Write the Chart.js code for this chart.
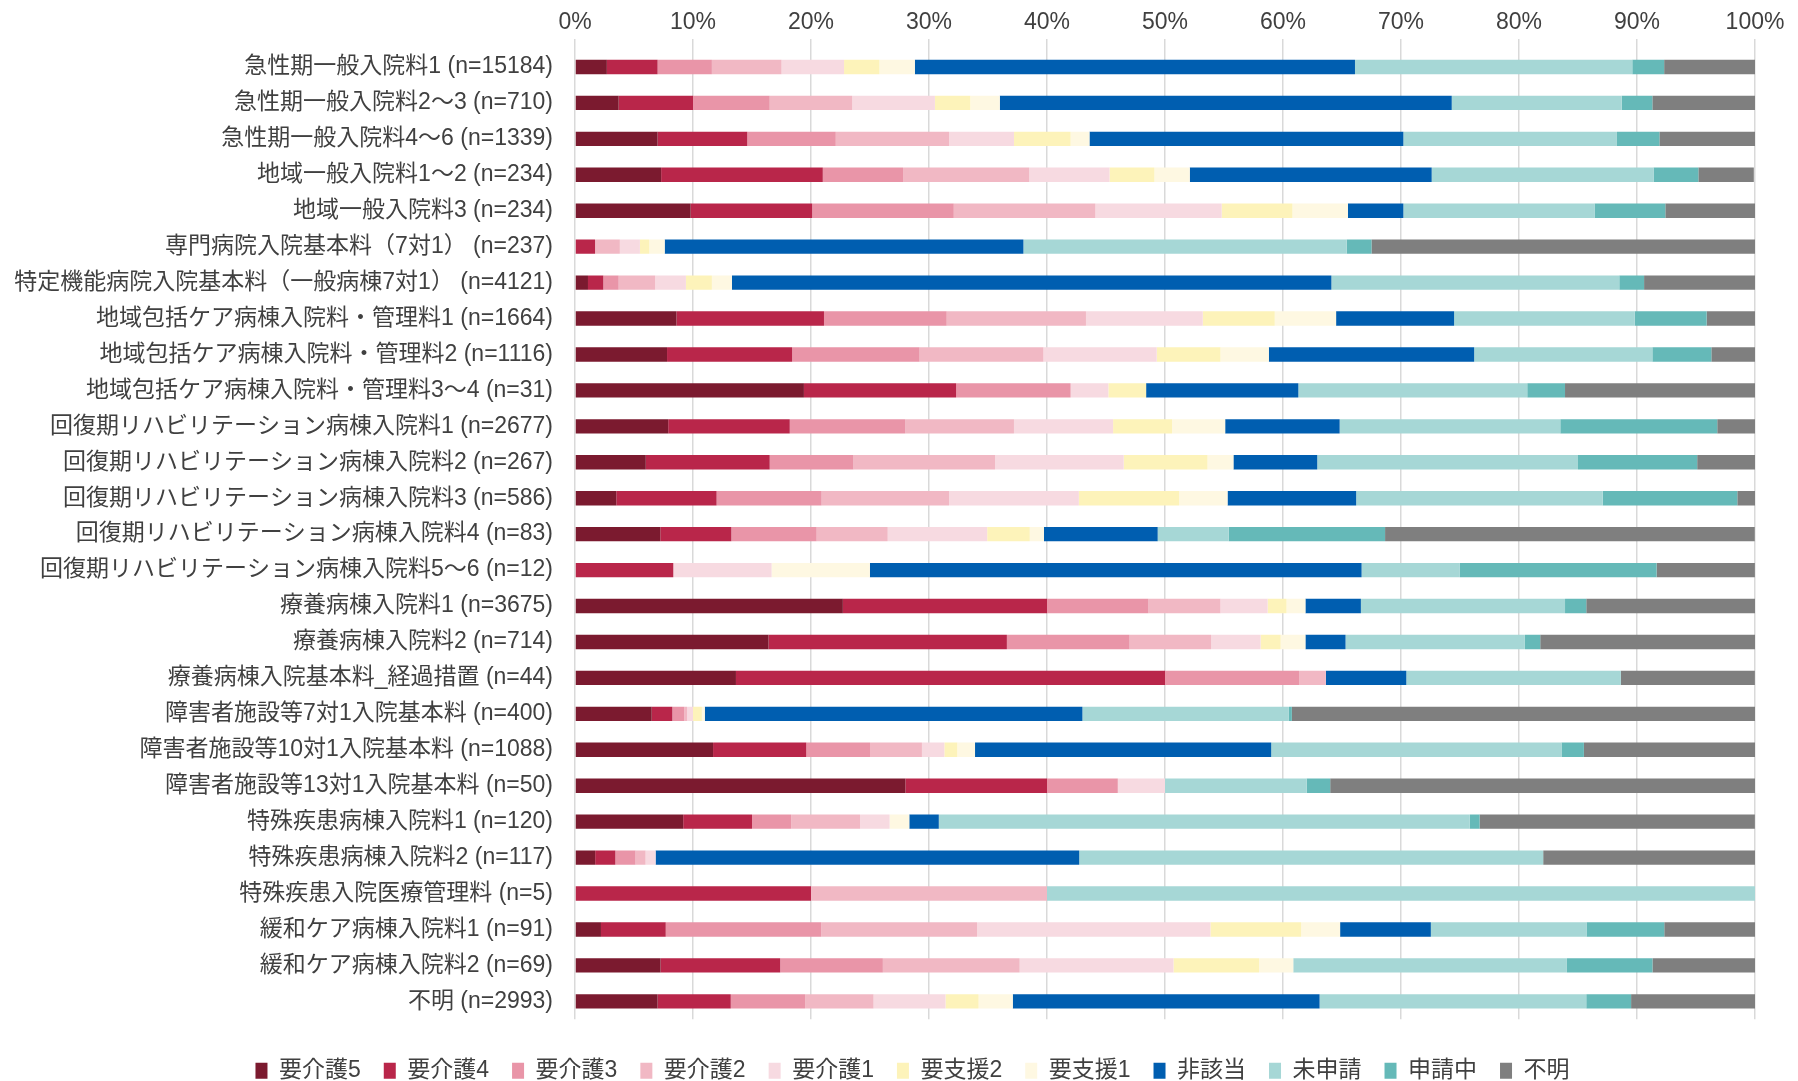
<!DOCTYPE html>
<html lang="ja">
<head>
<meta charset="utf-8">
<title>要介護度の分布</title>
<script src="https://cdn.jsdelivr.net/npm/chart.js@4.4.1/dist/chart.umd.min.js"></script>
<style>
    html, body { margin: 0; padding: 0; background: #fff; overflow: hidden; }
    .chart-wrap { position: relative; width: 1798px; height: 1081px; }
</style>
</head>
<body>
<div class="chart-wrap">
    <canvas id="careLevelChart"></canvas>
</div>
<script>
// Categories (top to bottom)
const categories = [
    '急性期一般入院料1 (n=15184)',
    '急性期一般入院料2～3 (n=710)',
    '急性期一般入院料4～6 (n=1339)',
    '地域一般入院料1～2 (n=234)',
    '地域一般入院料3 (n=234)',
    '専門病院入院基本料（7対1） (n=237)',
    '特定機能病院入院基本料（一般病棟7対1） (n=4121)',
    '地域包括ケア病棟入院料・管理料1 (n=1664)',
    '地域包括ケア病棟入院料・管理料2 (n=1116)',
    '地域包括ケア病棟入院料・管理料3～4 (n=31)',
    '回復期リハビリテーション病棟入院料1 (n=2677)',
    '回復期リハビリテーション病棟入院料2 (n=267)',
    '回復期リハビリテーション病棟入院料3 (n=586)',
    '回復期リハビリテーション病棟入院料4 (n=83)',
    '回復期リハビリテーション病棟入院料5～6 (n=12)',
    '療養病棟入院料1 (n=3675)',
    '療養病棟入院料2 (n=714)',
    '療養病棟入院基本料_経過措置 (n=44)',
    '障害者施設等7対1入院基本料 (n=400)',
    '障害者施設等10対1入院基本料 (n=1088)',
    '障害者施設等13対1入院基本料 (n=50)',
    '特殊疾患病棟入院料1 (n=120)',
    '特殊疾患病棟入院料2 (n=117)',
    '特殊疾患入院医療管理料 (n=5)',
    '緩和ケア病棟入院料1 (n=91)',
    '緩和ケア病棟入院料2 (n=69)',
    '不明 (n=2993)'
];

// Series values (%)
const kaigo5     = [2.7, 3.7, 7.0, 7.3, 9.8, 0, 1.1, 8.6, 7.8, 19.4, 7.9, 6.0, 3.5, 7.23, 0, 22.7, 16.4, 13.64, 6.5, 11.7, 28, 9.17, 1.71, 0, 2.2, 7.25, 7.0];
const kaigo4     = [4.3, 6.3, 7.6, 13.7, 10.3, 1.7, 1.3, 12.5, 10.6, 12.9, 10.3, 10.5, 8.5, 6.02, 8.33, 17.3, 20.2, 36.36, 1.75, 7.9, 12, 5.83, 1.71, 20, 5.49, 10.14, 6.2];
const kaigo3     = [4.6, 6.5, 7.5, 6.8, 12.0, 0, 1.3, 10.4, 10.8, 9.7, 9.8, 7.1, 8.9, 7.23, 0, 8.6, 10.4, 11.36, 1.0, 5.4, 6, 3.33, 1.71, 0, 13.19, 8.7, 6.3];
const kaigo2     = [5.9, 7.0, 9.6, 10.7, 12.0, 2.1, 3.1, 11.8, 10.5, 0, 9.2, 12.0, 10.8, 6.02, 0, 6.1, 6.9, 2.27, 0.25, 4.4, 0, 5.83, 0.85, 20, 13.19, 11.59, 5.8];
const kaigo1     = [5.3, 7.0, 5.5, 6.8, 10.7, 1.7, 2.6, 9.9, 9.6, 3.2, 8.4, 10.9, 11.0, 8.43, 8.33, 4.0, 4.2, 0, 0.5, 1.9, 4, 2.5, 0.85, 0, 19.78, 13.04, 6.1];
const shien2     = [3.0, 3.0, 4.8, 3.8, 6.0, 0.8, 2.2, 6.1, 5.4, 3.2, 5.0, 7.1, 8.5, 3.61, 0, 1.6, 1.7, 0, 0.75, 1.1, 0, 0, 0, 0, 7.69, 7.25, 2.8];
const shien1     = [3.0, 2.5, 1.6, 3.0, 4.7, 1.3, 1.7, 5.2, 4.1, 0, 4.5, 2.2, 4.1, 1.2, 8.33, 1.6, 2.1, 0, 0.25, 1.5, 0, 1.67, 0, 0, 3.3, 2.9, 2.9];
const higaito    = [37.3, 38.3, 26.6, 20.5, 4.7, 30.4, 50.8, 10.0, 17.4, 12.9, 9.7, 7.1, 10.9, 9.64, 41.67, 4.7, 3.4, 6.82, 32.0, 25.1, 0, 2.5, 35.9, 0, 7.69, 0, 26.0];
const mishinsei  = [23.5, 14.4, 18.1, 18.8, 16.2, 27.4, 24.4, 15.3, 15.1, 19.4, 18.7, 22.1, 20.9, 6.02, 8.33, 17.3, 15.2, 18.18, 17.5, 24.6, 12, 45.0, 39.32, 60, 13.19, 23.19, 22.6];
const shinseichu = [2.7, 2.6, 3.6, 3.8, 6.0, 2.1, 2.1, 6.1, 5.0, 3.2, 13.3, 10.1, 11.4, 13.25, 16.67, 1.8, 1.3, 0, 0.25, 1.9, 2, 0.83, 0, 0, 6.59, 7.25, 3.8];
const fumei      = [7.7, 8.7, 8.1, 4.7, 7.6, 32.5, 9.4, 4.1, 3.7, 16.1, 3.2, 4.9, 1.5, 31.33, 8.33, 14.3, 18.2, 11.36, 39.25, 14.5, 36, 23.33, 17.95, 0, 7.69, 8.7, 10.5];

// Axis ticks
const xTicks = [0, 10, 20, 30, 40, 50, 60, 70, 80, 90, 100];

const seriesNames = ['要介護5', '要介護4', '要介護3', '要介護2', '要介護1', '要支援2', '要支援1', '非該当', '未申請', '申請中', '不明'];
const seriesData = [kaigo5, kaigo4, kaigo3, kaigo2, kaigo1, shien2, shien1, higaito, mishinsei, shinseichu, fumei];
const seriesColors = ['#7B1A2F', '#B9264A', '#E995A8', '#F1B8C4', '#F7DAE1', '#FDF3BA', '#FEF8E2', '#005EB0', '#A6D7D6', '#65B9B8', '#7F7F7F'];

const textColor = '#404040';
Chart.defaults.font.family = "'Liberation Sans', 'Noto Sans CJK JP', sans-serif";
Chart.defaults.color = textColor;

// Nudge the legend row to where it sits in the original
const legendOffset = {
    id: 'legendOffset',
    afterLayout(chart) {
        const lg = chart.legend;
        if (!lg) return;
        lg.left += 35;
        lg.right += 35;
        lg.top += 17;
        lg.bottom += 17;
    }
};

const ctx = document.getElementById('careLevelChart').getContext('2d');
new Chart(ctx, {
    type: 'bar',
    data: {
        labels: categories,
        datasets: seriesNames.map((name, i) => ({
            label: name,
            data: seriesData[i],
            backgroundColor: seriesColors[i],
            borderWidth: 0,
            barPercentage: 0.4,
            categoryPercentage: 1
        }))
    },
    plugins: [legendOffset],
    options: {
        indexAxis: 'y',
        responsive: true,
        maintainAspectRatio: false,
        animation: false,
        layout: {
            padding: { top: 0, left: 0, right: 43, bottom: 5.7 }
        },
        plugins: {
            legend: {
                position: 'bottom',
                labels: {
                    boxWidth: 12,
                    boxHeight: 16,
                    padding: 23,
                    color: textColor,
                    font: { size: 23 }
                }
            },
            tooltip: {
                callbacks: {
                    label: (item) => `${item.dataset.label}: ${item.raw}%`
                }
            }
        },
        scales: {
            x: {
                position: 'top',
                stacked: true,
                min: 0,
                max: 100,
                afterBuildTicks: (scale) => {
                    scale.ticks = xTicks.map(v => ({ value: v }));
                },
                afterFit: (scale) => {
                    scale.height = 49;
                },
                grid: {
                    color: '#d9d9d9',
                    lineWidth: 1.5,
                    drawTicks: true,
                    tickLength: 10
                },
                border: { display: false },
                ticks: {
                    padding: 3,
                    color: textColor,
                    font: { size: 23 },
                    callback: value => value + '%'
                }
            },
            y: {
                stacked: true,
                afterFit: (scale) => {
                    scale.width = 575;
                },
                grid: { display: false, drawTicks: false },
                border: { display: false },
                ticks: {
                    autoSkip: false,
                    padding: 22,
                    color: textColor,
                    font: { size: 23 }
                }
            }
        }
    }
});
</script>
</body>
</html>
